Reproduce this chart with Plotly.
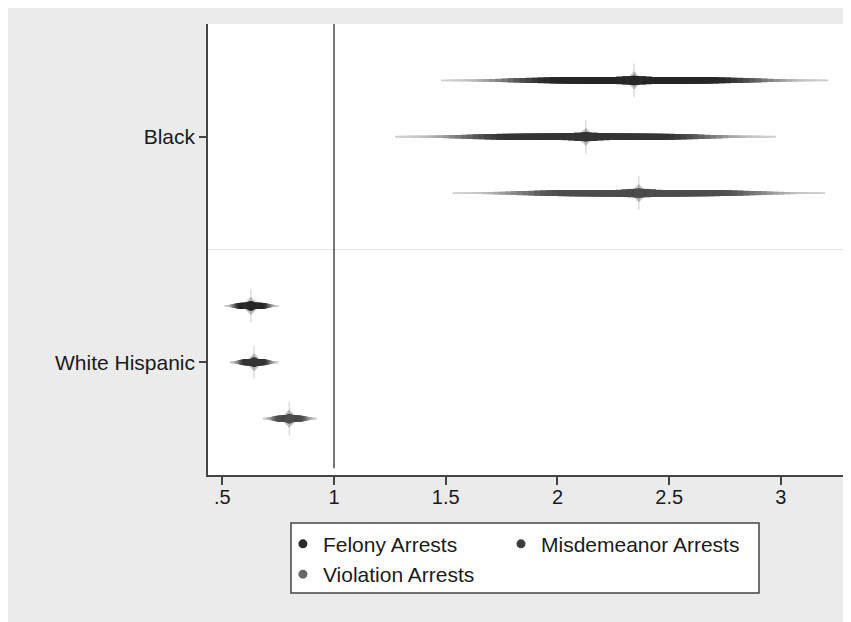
import plotly.graph_objects as go

# ---- data ----
groups = ["Black", "White Hispanic"]
series = ["Felony Arrests", "Misdemeanor Arrests", "Violation Arrests"]

# point estimates per series: [Black, White Hispanic]
est_felony = [2.343, 0.628]
est_misd = [2.127, 0.642]
est_viol = [2.364, 0.800]

lo_felony = [1.479, 0.509]
lo_misd = [1.273, 0.534]
lo_viol = [1.531, 0.681]

hi_felony = [3.212, 0.754]
hi_misd = [2.977, 0.751]
hi_viol = [3.198, 0.923]

# row positions: group centre, series offset
group_pos = [4, 0]
series_offset = [1, 0, -1]

x_tickvals = [0.5, 1, 1.5, 2, 2.5, 3]
x_ticktext = [".5", "1", "1.5", "2", "2.5", "3"]
ref_x = 1

# ---- style ----
series_colors = ["#262626", "#343434", "#4c4c4c"]
legend_colors = ["#2a2a2a", "#3c3c3c", "#666666"]
legend_ids = ["legend", "legend2", "legend"]   # two-column legend layout
light = (205, 205, 205)
N_LAYERS = 32


def smoothstep(a, b, v):
    t = (v - a) / (b - a)
    t = max(0.0, min(1.0, t))
    return t * t * (3 - 2 * t)


def mix(dark_hex, t):
    d = tuple(int(dark_hex[i:i + 2], 16) for i in (1, 3, 5))
    c = tuple(round(light[k] + (d[k] - light[k]) * t) for k in range(3))
    return "rgb(%d,%d,%d)" % c


layers = []
for i in range(N_LAYERS):
    f = 1.0 - i * (0.97 / (N_LAYERS - 1))
    t = smoothstep(0.97, 0.42, f)
    w = 1.9 + 4.2 * smoothstep(0.92, 0.40, f) + 2.6 * smoothstep(0.18, 0.03, f)
    layers.append((f, w, t))

fig = go.Figure()

all_est = [est_felony, est_misd, est_viol]
all_lo = [lo_felony, lo_misd, lo_viol]
all_hi = [hi_felony, hi_misd, hi_viol]

for s in range(3):
    ys = [group_pos[g] + series_offset[s] for g in range(2)]
    for frac, w, t in layers:
        xs, yy = [], []
        for g in range(2):
            e, l, h = all_est[s][g], all_lo[s][g], all_hi[s][g]
            xs += [e - frac * (e - l), e + frac * (h - e), None]
            yy += [ys[g], ys[g], None]
        fig.add_trace(go.Scatter(x=xs, y=yy, mode="lines",
                                 line=dict(color=mix(series_colors[s], t), width=w),
                                 hoverinfo="skip", showlegend=False))
    # faint vertical spike around the estimate
    fig.add_trace(go.Scatter(x=all_est[s], y=ys, mode="markers",
                             marker=dict(symbol="line-ns", size=24,
                                         line=dict(color="rgba(120,120,120,0.25)", width=1.5)),
                             hoverinfo="skip", showlegend=False))
    fig.add_trace(go.Scatter(x=all_est[s], y=ys, mode="markers",
                             marker=dict(symbol="diamond", size=14,
                                         color="rgba(60,60,60,0.3)"),
                             hoverinfo="skip", showlegend=False))
    fig.add_trace(go.Scatter(x=all_est[s], y=ys, mode="markers",
                             marker=dict(symbol="circle", size=10, color=series_colors[s]),
                             showlegend=False))

for s in range(3):
    fig.add_trace(go.Scatter(x=[None], y=[None], mode="markers", name=series[s],
                             legend=legend_ids[s],
                             marker=dict(symbol="circle", size=9, color=legend_colors[s])))

# reference line and group separator
fig.add_shape(type="line", x0=ref_x, x1=ref_x, y0=-1.88, y1=6, xref="x", yref="y",
              line=dict(color="#555555", width=1.6), layer="above")
fig.add_shape(type="line", x0=0, x1=1, y0=2, y1=2, xref="paper", yref="y",
              line=dict(color="#e4e4e4", width=1.2), layer="below")
# legend frame
fig.add_shape(type="rect", x0=0.1307, x1=0.8677, y0=-0.2616, y1=-0.1064,
              xref="paper", yref="paper", fillcolor="white",
              line=dict(color="#444444", width=1.5), layer="above")

leg_common = dict(orientation="v", y=-0.108, xanchor="left", yanchor="top",
                  bgcolor="rgba(0,0,0,0)", borderwidth=0,
                  font=dict(size=21), tracegroupgap=0)

fig.update_layout(
    width=843, height=614,
    paper_bgcolor="#ebebeb", plot_bgcolor="white",
    margin=dict(l=200, r=8, t=16, b=147),
    font=dict(family="Liberation Sans, Arial, sans-serif", size=20, color="#1a1a1a"),
    showlegend=True,
    legend=dict(x=0.118, **leg_common),
    legend2=dict(x=0.4614, **leg_common),
)
fig.update_xaxes(range=[0.436, 3.278], tickvals=x_tickvals, ticktext=x_ticktext,
                 showgrid=False, zeroline=False, showline=True, linecolor="#444444",
                 linewidth=1.5, ticks="outside", ticklen=8, tickwidth=1.5,
                 tickcolor="#444444", tickfont=dict(size=20), ticklabelstandoff=-5)
fig.update_yaxes(range=[-2, 6], tickvals=group_pos, ticktext=groups,
                 showgrid=False, zeroline=False, showline=True, linecolor="#444444",
                 linewidth=1.5, ticks="outside", ticklen=7, tickwidth=1.5,
                 tickcolor="#444444", tickfont=dict(size=21))

fig.write_html("out.html")
